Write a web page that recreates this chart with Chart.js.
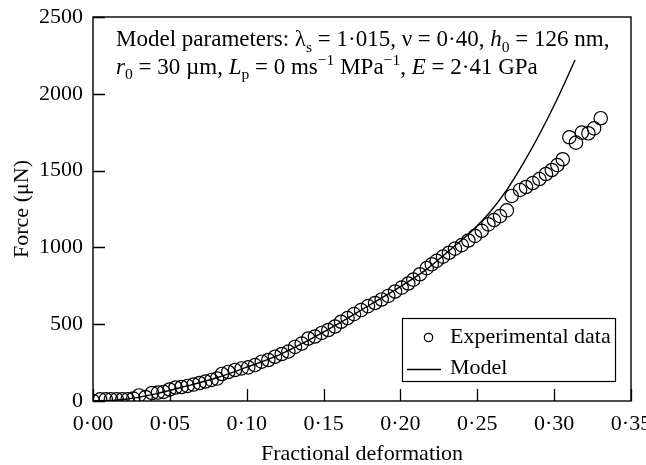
<!DOCTYPE html>
<html>
<head>
<meta charset="utf-8">
<script src="https://cdn.jsdelivr.net/npm/chart.js"></script>
<style>
  html, body { margin: 0; padding: 0; background: #fff; }
  #wrap { width: 646px; height: 465px; }
</style>
</head>
<body>
<div id="wrap"><canvas id="c" width="646" height="465"></canvas></div>
<script>
// ---- data ----
const expStrain = [0.000,0.0046,0.0083,0.0117,0.0154,0.0191,0.0226,0.0262,0.0299,0.0342,0.0384,0.0423,0.0459,0.0498,0.0537,0.0576,0.0615,0.0654,0.0693,0.0732,0.0771,0.0807,0.0839,0.0880,0.0924,0.0967,0.1010,0.1054,0.1098,0.1141,0.1184,0.1228,0.1271,0.1314,0.1358,0.1401,0.1444,0.1488,0.1531,0.1574,0.1614,0.1656,0.1698,0.1744,0.1789,0.1835,0.1878,0.1921,0.1965,0.2008,0.2051,0.2084,0.2127,0.2171,0.2204,0.2236,0.2277,0.2316,0.2355,0.2399,0.2442,0.2485,0.2529,0.2572,0.2609,0.2648,0.2692,0.2724,0.2778,0.2817,0.2861,0.2904,0.2947,0.2985,0.3021,0.3056,0.3099,0.3142,0.3180,0.3223,0.3260,0.3303];
const expForce = [0,11,11,11,11,11,11,16,36,26,52,55,59,75,88,91,98,107,117,127,137,146,176,189,202,212,219,234,256,267,288,306,322,352,374,407,420,443,462,485,516,540,566,592,618,638,661,684,713,738,765,790,825,865,890,912,940,965,992,1015,1045,1075,1108,1150,1178,1204,1241,1335,1374,1393,1419,1445,1478,1504,1536,1574,1717,1682,1747,1743,1775,1841];
const modelStrain = [0,0.02,0.04,0.06,0.08,0.10,0.12,0.14,0.16,0.18,0.20,0.2149,0.2258,0.2366,0.2474,0.2583,0.2692,0.2800,0.2908,0.3017,0.3136];
const modelForce = [0,10,45,95,150,220,295,395,505,625,745,842,929,1020,1115,1230,1374,1548,1743,1960,2220];
const xTickValues = [0,0.05,0.10,0.15,0.20,0.25,0.30,0.35];
const xTickLabels = ['0·00','0·05','0·10','0·15','0·20','0·25','0·30','0·35'];
const yTickValues = [0,500,1000,1500,2000,2500];
const yTickLabels = ['0','500','1000','1500','2000','2500'];
const seriesNames = ['Experimental data','Model'];
const xTitle = 'Fractional deformation';
const yTitle = 'Force (μN)';

const FONT = '"Liberation Serif", "Times New Roman", serif';
const FS = 22;

const expPts = expStrain.map((x, i) => ({x, y: expForce[i]}));
const modelPts = modelStrain.map((x, i) => ({x, y: modelForce[i]}));

// annotation text runs
const annoLines = [
  [{t:'Model parameters: λ'},{t:'s',sub:1},{t:' = 1·015, ν = 0·40, '},{t:'h',it:1},{t:'0',sub:1},{t:' = 126 nm,'}],
  [{t:'r',it:1},{t:'0',sub:1},{t:' = 30 µm, '},{t:'L',it:1},{t:'p',sub:1},{t:' = 0 ms'},{t:'−1',sup:1},{t:' MPa'},{t:'−1',sup:1},{t:', '},{t:'E',it:1},{t:' = 2·41 GPa'}]
];

function drawRuns(ctx, runs, x, y, size) {
  ctx.textBaseline = 'alphabetic';
  ctx.textAlign = 'left';
  for (const r of runs) {
    const s = (r.sub || r.sup) ? size * 0.68 : size;
    ctx.font = (r.it ? 'italic ' : '') + s + 'px ' + FONT;
    const dy = r.sub ? size * 0.24 : (r.sup ? -size * 0.36 : 0);
    ctx.fillText(r.t, x, y + dy);
    x += ctx.measureText(r.t).width;
  }
}

const framePlugin = {
  id: 'frame',
  afterDraw(chart) {
    const ctx = chart.ctx;
    const a = chart.chartArea;
    const xs = chart.scales.x, ys = chart.scales.y;
    ctx.save();
    ctx.strokeStyle = '#000';
    ctx.lineWidth = 1.4;
    ctx.strokeRect(a.left, a.top, a.right - a.left, a.bottom - a.top);
    ctx.lineWidth = 1.3;
    ctx.beginPath();
    for (const v of yTickValues) {
      const p = Math.round(ys.getPixelForValue(v)) + 0.5;
      ctx.moveTo(a.left, p); ctx.lineTo(a.left + 12, p);
    }
    for (const v of xTickValues) {
      const p = Math.round(xs.getPixelForValue(v)) + 0.5;
      ctx.moveTo(p, a.bottom); ctx.lineTo(p, a.bottom - 12);
    }
    ctx.stroke();

    // annotation
    ctx.fillStyle = '#000';
    drawRuns(ctx, annoLines[0], 116, 46, 23);
    drawRuns(ctx, annoLines[1], 116, 73.5, 23);

    // legend box
    const bx = 402, by = 318, bw = 213, bh = 63;
    ctx.lineWidth = 1.2;
    ctx.strokeRect(bx + 0.5, by + 0.5, bw, bh);
    const d0 = chart.data.datasets[0], d1 = chart.data.datasets[1];
    ctx.beginPath();
    ctx.lineWidth = d0.borderWidth;
    ctx.strokeStyle = d0.borderColor;
    ctx.arc(428.5, 337.5, 4.2, 0, Math.PI * 2);
    ctx.stroke();
    ctx.beginPath();
    ctx.lineWidth = d1.borderWidth;
    ctx.strokeStyle = d1.borderColor;
    ctx.moveTo(407, 369.5); ctx.lineTo(441, 369.5);
    ctx.stroke();
    ctx.font = FS + 'px ' + FONT;
    ctx.textBaseline = 'middle';
    ctx.textAlign = 'left';
    ctx.fillText(d0.label, 450, 337);
    ctx.fillText(d1.label, 450, 368);
    ctx.restore();
  }
};

new Chart(document.getElementById('c'), {
  type: 'scatter',
  data: {
    datasets: [
      {
        label: seriesNames[0],
        data: expPts,
        showLine: false,
        pointStyle: 'circle',
        pointRadius: 6.7,
        pointHoverRadius: 6.7,
        borderColor: '#000',
        backgroundColor: 'rgba(0,0,0,0)',
        borderWidth: 1.2
      },
      {
        label: seriesNames[1],
        data: modelPts,
        showLine: true,
        pointRadius: 0,
        borderColor: '#000',
        backgroundColor: '#000',
        borderWidth: 1.4,
        cubicInterpolationMode: 'monotone'
      }
    ]
  },
  options: {
    responsive: false,
    animation: false,
    devicePixelRatio: 1,
    layout: { padding: { left: 0, top: 17, right: 15, bottom: 0 } },
    plugins: { legend: { display: false }, tooltip: { enabled: false } },
    scales: {
      x: {
        type: 'linear',
        min: 0, max: 0.35,
        afterBuildTicks(s) { s.ticks = xTickValues.map(v => ({value: v})); },
        afterFit(s) { s.height = 64; s.paddingLeft = 0; s.paddingRight = 0; },
        grid: { display: false, drawTicks: false },
        border: { display: false },
        ticks: {
          color: '#000',
          padding: 10,
          maxRotation: 0,
          autoSkip: false,
          font: { family: FONT, size: FS },
          callback: (v) => { const i = xTickValues.findIndex(t => Math.abs(t - v) < 1e-9); return i >= 0 ? xTickLabels[i] : ''; }
        },
        title: {
          display: true, text: xTitle, color: '#000',
          font: { family: FONT, size: FS, lineHeight: 1 },
          padding: { top: 0, bottom: 0 }
        }
      },
      y: {
        type: 'linear',
        min: 0, max: 2500,
        afterBuildTicks(s) { s.ticks = yTickValues.map(v => ({value: v})); },
        afterFit(s) { s.width = 93; s.paddingTop = 0; s.paddingBottom = 0; },
        grid: { display: false, drawTicks: false },
        border: { display: false },
        ticks: {
          color: '#000',
          padding: 10,
          autoSkip: false,
          font: { family: FONT, size: FS },
          callback: (v) => { const i = yTickValues.indexOf(v); return i >= 0 ? yTickLabels[i] : ''; }
        },
        title: {
          display: true, text: yTitle, color: '#000',
          font: { family: FONT, size: FS, lineHeight: 1.2 },
          padding: { top: 9, bottom: 0 }
        }
      }
    }
  },
  plugins: [framePlugin]
});
</script>
</body>
</html>
